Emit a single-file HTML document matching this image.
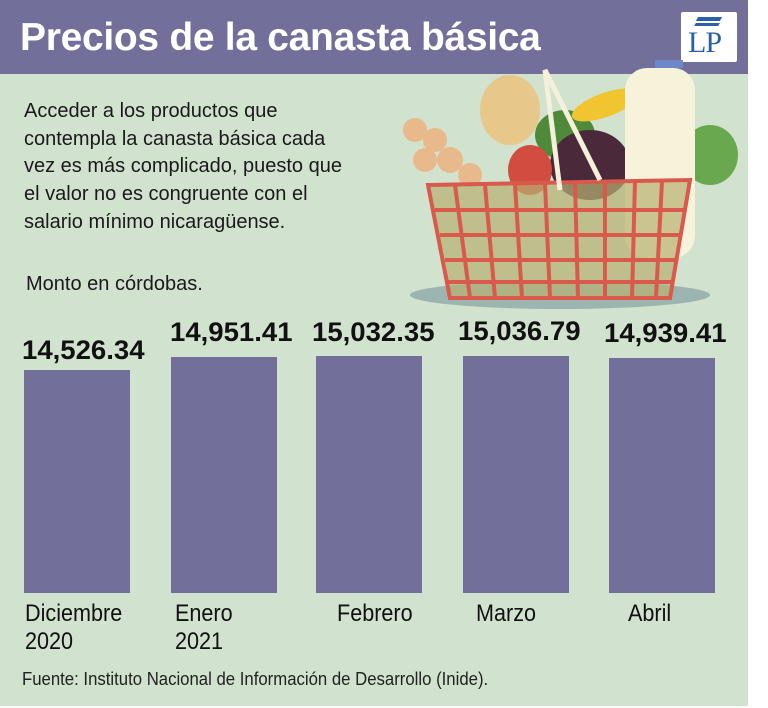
<!DOCTYPE html>
<html><head><meta charset="utf-8"><style>
body{margin:0;width:768px;height:708px;background:#fff;position:relative;overflow:hidden;font-family:"Liberation Sans",sans-serif}
#g{position:absolute;left:0;top:0;width:748px;height:706px;background:#d1e2cf}
#h{position:absolute;left:0;top:0;width:748px;height:74px;background:#726f9a}
.t{position:absolute;white-space:nowrap;color:#111}
.bar{position:absolute;background:#726f9a;width:106px}
.v{position:absolute;font-weight:bold;font-size:27px;color:#111;transform:scaleX(1.02);transform-origin:left}
.l{position:absolute;font-size:24px;color:#111;line-height:28px;transform:scaleX(0.9);transform-origin:left;white-space:nowrap}
</style></head><body>
<div id="g"></div><div id="h"></div>
<div class="t" style="left:20px;top:16px;font-size:39px;font-weight:bold;color:#fff;letter-spacing:-0.3px">Precios de la canasta básica</div>
<div style="position:absolute;left:681px;top:12px;width:56px;height:50px;background:#fff;border-radius:2px"></div>
<div class="t" style="left:688px;top:26px;font-family:'Liberation Serif',serif;font-size:30px;color:#2b5fa6;letter-spacing:-1px">LP</div>
<div style="position:absolute;left:697px;top:17px;width:24px;height:4px;background:#2b5fa6;transform:skewX(-30deg)"></div>
<div style="position:absolute;left:695px;top:23px;width:24px;height:3px;background:#2b5fa6;transform:skewX(-30deg)"></div>
<div class="t" style="left:24px;top:98px;font-size:20px;line-height:27.7px;color:#1a1a1a">Acceder a los productos que<br>contempla la canasta básica cada<br>vez es más complicado, puesto que<br>el valor no es congruente con el<br>salario mínimo nicaragüense.</div>
<div class="t" style="left:26px;top:273px;font-size:20px;color:#1a1a1a">Monto en córdobas.</div>
<svg style="position:absolute;left:400px;top:60px" width="350" height="260">
<ellipse cx="160" cy="235" rx="150" ry="14" fill="#9db5b0"/>
<ellipse cx="110" cy="50" rx="30" ry="35" fill="#e8c88a"/>
<g fill="#e8b98a"><circle cx="15" cy="70" r="12"/><circle cx="35" cy="80" r="12"/><circle cx="50" cy="100" r="13"/><circle cx="25" cy="100" r="12"/><circle cx="70" cy="115" r="12"/></g>
<ellipse cx="165" cy="75" rx="30" ry="25" fill="#4e8a3a"/>
<ellipse cx="205" cy="45" rx="35" ry="12" fill="#f0c530" transform="rotate(-20 205 45)"/>
<ellipse cx="190" cy="105" rx="40" ry="35" fill="#4a2a3a"/>
<ellipse cx="310" cy="95" rx="28" ry="30" fill="#6aa84f"/>
<ellipse cx="130" cy="110" rx="22" ry="25" fill="#d24d3f"/>
<rect x="225" y="8" width="70" height="190" rx="22" fill="#f7f2da"/>
<rect x="255" y="-2" width="28" height="10" fill="#6c88c8"/>
<path d="M28 125 L290 120 L270 238 L50 238 Z" fill="#b7b070" opacity="0.7"/>
<g stroke="#d9594c" stroke-width="4" fill="none">
<path d="M28 125 L290 120 L270 238 L50 238 Z"/>
<path d="M35 150 H285 M40 175 H280 M45 200 H277 M48 222 H273"/>
<path d="M55 125 L70 238 M85 125 L95 238 M115 124 L122 238 M145 124 L150 238 M175 123 L178 238 M205 122 L205 238 M235 121 L232 238 M262 121 L256 238"/>
</g>
<path d="M160 130 L145 10 L200 120" stroke="#f5f0dc" stroke-width="5" fill="none"/>
</svg>
<div class="v" style="left:22px;top:335px">14,526.34</div>
<div class="v" style="left:170px;top:317px">14,951.41</div>
<div class="v" style="left:312px;top:317px">15,032.35</div>
<div class="v" style="left:458px;top:316px">15,036.79</div>
<div class="v" style="left:604px;top:318px">14,939.41</div>
<div class="bar" style="left:24px;top:370px;height:223px"></div>
<div class="bar" style="left:171px;top:357px;height:236px"></div>
<div class="bar" style="left:316px;top:356px;height:237px"></div>
<div class="bar" style="left:463px;top:356px;height:237px"></div>
<div class="bar" style="left:609px;top:358px;height:235px"></div>
<div class="l" style="left:25px;top:600px">Diciembre<br>2020</div>
<div class="l" style="left:175px;top:600px">Enero<br>2021</div>
<div class="l" style="left:337px;top:600px">Febrero</div>
<div class="l" style="left:476px;top:600px">Marzo</div>
<div class="l" style="left:628px;top:600px">Abril</div>
<div class="t" style="left:22px;top:669px;font-size:18px;color:#222;transform:scaleX(0.93);transform-origin:left">Fuente: Instituto Nacional de Información de Desarrollo (Inide).</div>
</body></html>
